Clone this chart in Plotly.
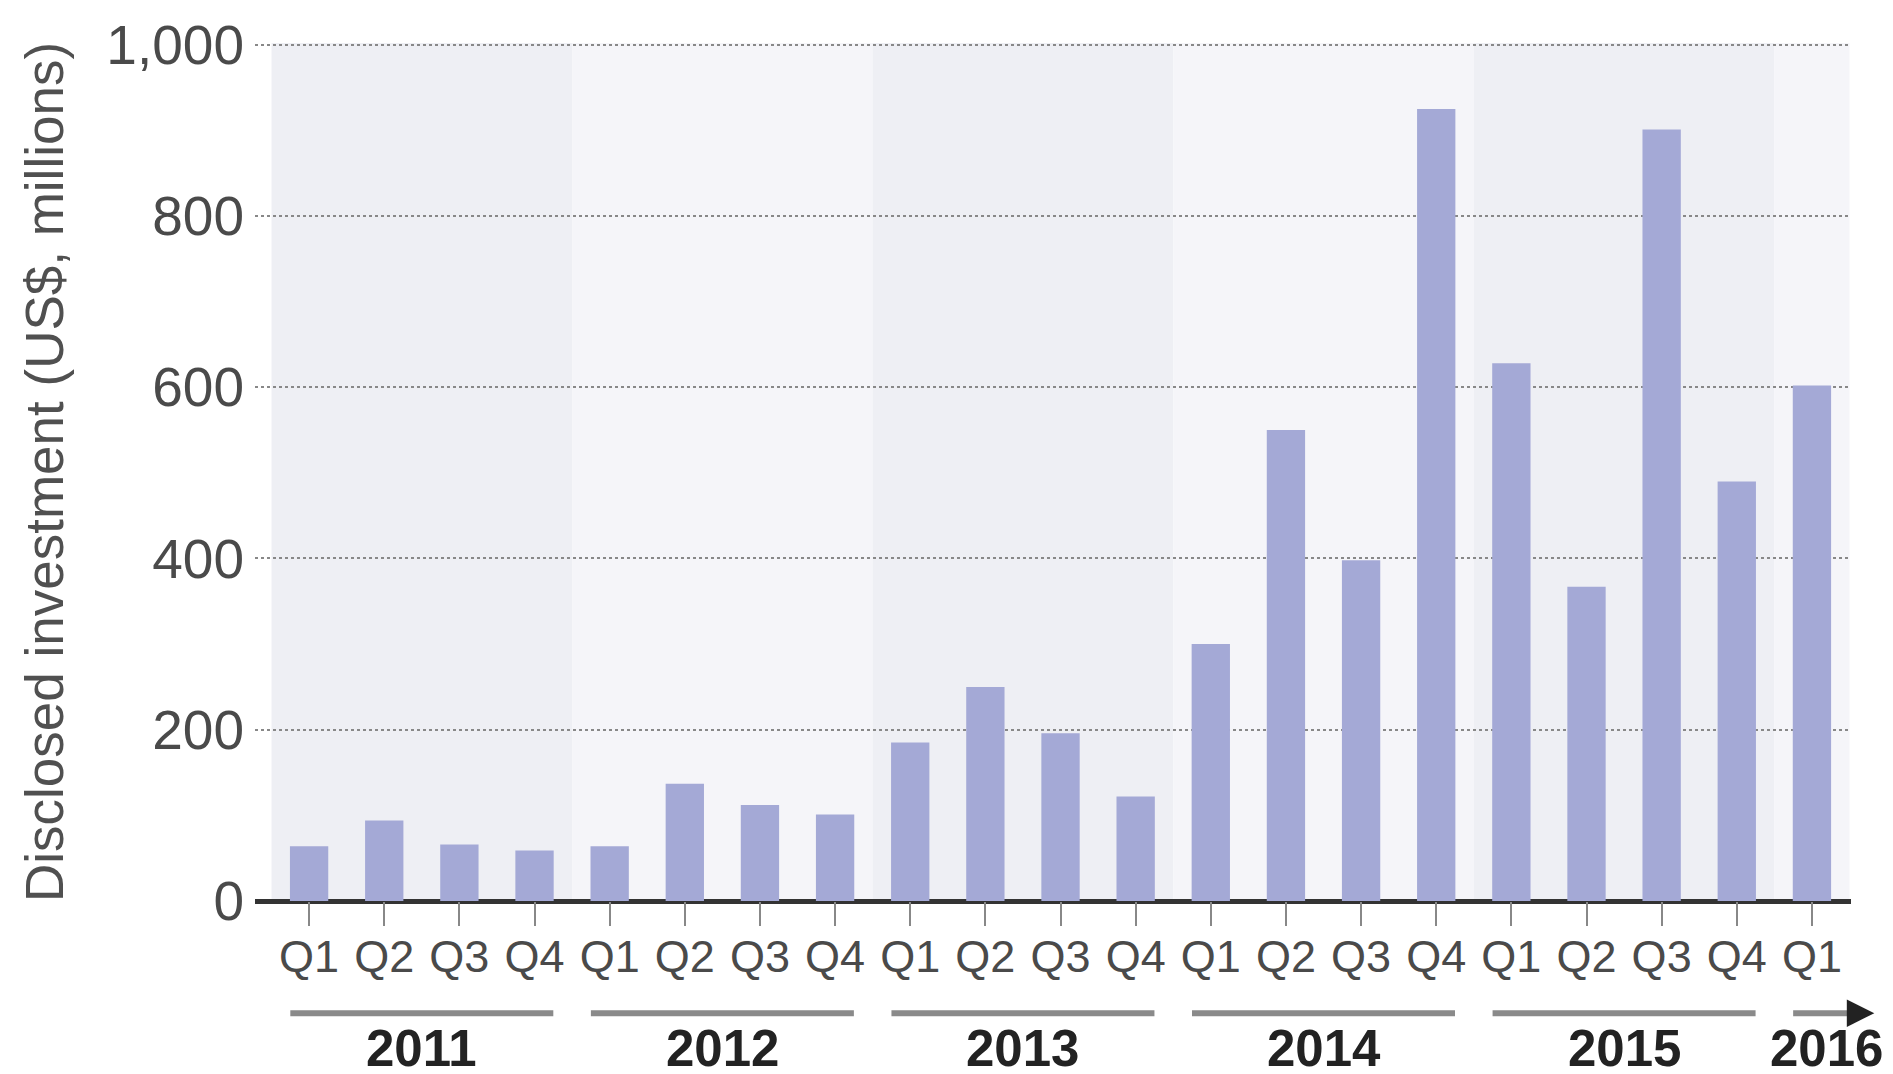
import plotly.graph_objects as go

# ---- data ----
years = ["2011", "2012", "2013", "2014", "2015", "2016"]
quarters_per_year = [4, 4, 4, 4, 4, 1]
quarter_labels = ["Q1", "Q2", "Q3", "Q4"] * 5 + ["Q1"]
investment = [64, 94, 66, 59,
              64, 137, 112, 101,
              185, 250, 196, 122,
              300, 550, 398, 925,
              628, 367, 901, 490,
              602]
y_ticks = [0, 200, 400, 600, 800, 1000]

# ---- style ----
FONT = "Liberation Sans, Arial, sans-serif"
BAR_COLOR = "#a4a9d6"
BAND_DARK = "#eeeff4"
BAND_LIGHT = "#f5f5f9"
XMIN, XMAX = -0.72, 20.52
YEAR_LINE_Y = -0.1307
YEAR_TEXT_Y = -0.1715

x_idx = list(range(len(investment)))

fig = go.Figure()
fig.add_trace(go.Bar(
    x=x_idx, y=investment, width=0.51,
    marker=dict(color=BAR_COLOR, line=dict(width=0)),
    hoverinfo="skip",
))

def xp(v):
    return (v - XMIN) / (XMAX - XMIN)

shapes = []
annotations = []
start = 0
for k, (yr, n) in enumerate(zip(years, quarters_per_year)):
    end = start + n - 1
    # background band
    shapes.append(dict(type="rect", xref="x", yref="paper",
                       x0=start - 0.5, x1=min(end + 0.5, XMAX), y0=0, y1=1,
                       fillcolor=BAND_DARK if k % 2 == 0 else BAND_LIGHT,
                       line=dict(width=0), layer="below"))
    last = (k == len(years) - 1)
    if not last:
        shapes.append(dict(type="line", xref="paper", yref="paper",
                           x0=xp(start - 0.25), x1=xp(end + 0.25),
                           y0=YEAR_LINE_Y, y1=YEAR_LINE_Y,
                           line=dict(color="#8a8a8a", width=6)))
        annotations.append(dict(text=yr, xref="paper", yref="paper",
                                x=xp((start + end) / 2), y=YEAR_TEXT_Y,
                                xanchor="center", yanchor="middle",
                                showarrow=False,
                                font=dict(family=FONT, size=51, color="#222222", weight="bold")))
    else:
        shapes.append(dict(type="line", xref="paper", yref="paper",
                           x0=xp(start - 0.25), x1=xp(start + 0.5),
                           y0=YEAR_LINE_Y, y1=YEAR_LINE_Y,
                           line=dict(color="#8a8a8a", width=6)))
        annotations.append(dict(text="", xref="paper", yref="paper",
                                x=xp(start + 0.83), y=YEAR_LINE_Y,
                                ax=-26, ay=0,
                                showarrow=True, arrowhead=2, arrowsize=1.1,
                                arrowwidth=5, arrowcolor="#222222"))
        annotations.append(dict(text=yr, xref="paper", yref="paper",
                                x=xp(start + 0.2), y=YEAR_TEXT_Y,
                                xanchor="center", yanchor="middle",
                                showarrow=False,
                                font=dict(family=FONT, size=51, color="#222222", weight="bold")))
    start = end + 1

# y axis title
annotations.append(dict(text="Disclosed investment (US$, millions)",
                        xref="paper", yref="paper", x=-211 / 1596, y=0.5,
                        xanchor="center", yanchor="middle", textangle=-90,
                        showarrow=False,
                        font=dict(family=FONT, size=53, color="#505050")))

fig.update_layout(
    width=1893, height=1074,
    margin=dict(l=247, r=50, t=35, b=181, autoexpand=False),
    paper_bgcolor="white", plot_bgcolor="white",
    showlegend=False,
    shapes=shapes, annotations=annotations,
    font=dict(family=FONT),
    bargap=0.49,
)
fig.update_xaxes(
    range=[XMIN, XMAX], tickmode="array", tickvals=x_idx, ticktext=quarter_labels,
    ticks="outside", ticklen=24, tickwidth=2, tickcolor="#888888",
    tickfont=dict(family=FONT, size=45, color="#4a4a4a"),
    ticklabelstandoff=-8,
    showgrid=False, zeroline=False, showline=False,
)
fig.update_yaxes(
    range=[0, 1002], tickmode="array", tickvals=y_ticks, tickformat=",d",
    tickfont=dict(family=FONT, size=55, color="#4a4a4a"),
    showgrid=True, gridcolor="#888888", gridwidth=2, griddash="dot",
    zeroline=True, zerolinecolor="#333333", zerolinewidth=5,
    showline=False, ticks="", ticklabelstandoff=10,
)

fig.write_html("out.html")
